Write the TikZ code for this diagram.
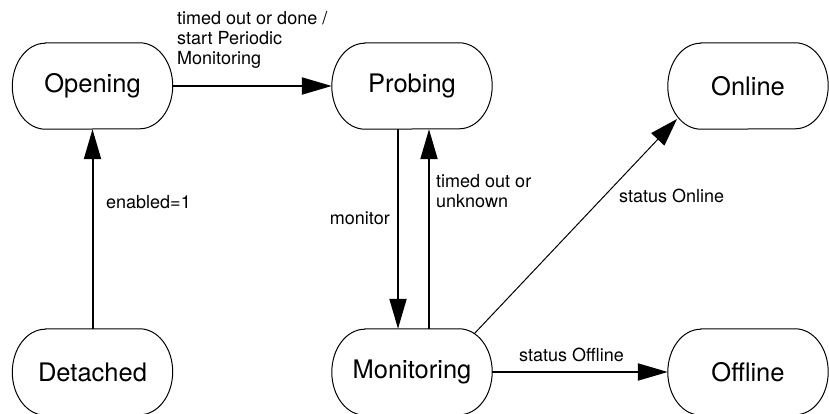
\documentclass[tikz,border=0pt]{standalone}
\usepackage{fontspec}
\setmainfont{TeX Gyre Heros}
\usetikzlibrary{arrows.meta}
\begin{document}
\begin{tikzpicture}[x=1pt,y=-1pt,
  state/.style={minimum width=160pt,minimum height=86pt,inner sep=0pt,font=\fontsize{25.5}{30}\selectfont},
  outline/.style={draw=black,line width=1pt},
  lbl/.style={inner sep=0pt,font=\fontsize{18}{20}\selectfont,align=left},
  thick arrow/.style={line width=2pt,-{Triangle[length=30pt,width=17pt]}},
  thin arrow/.style={line width=1pt,-{Triangle[length=28pt,width=18pt]}}]
\useasboundingbox (0,0) rectangle (829,414);
\node[state] (op) at (92.5,86) {Opening};
\node[state] (pr) at (412,86) {Probing};
\node[state] (on) at (748,86) {Online};
\node[state] (de) at (92.5,372) {Detached};
\node[state] (mo) at (412,372) {Monitoring};
\node[state] (of) at (748,372) {Offline};
\foreach \n in {op,pr,on,de,mo,of}{
  \draw[outline] ([xshift=33pt]\n.north west) -- ([xshift=-33pt]\n.north east)
    arc[start angle=90,end angle=-90,x radius=33pt,y radius=43pt]
    -- ([xshift=33pt]\n.south west)
    arc[start angle=270,end angle=90,x radius=33pt,y radius=43pt] -- cycle;
}
\draw[thick arrow] (op.east) -- (pr.west);
\draw[thick arrow] (de.north) -- (op.south);
\draw[thick arrow] ([xshift=-14pt]pr.south) -- ([xshift=-14pt]mo.north);
\draw[thick arrow] ([xshift=17pt]mo.north) -- ([xshift=17pt]pr.south);
\draw[thin arrow] ([xshift=62pt,yshift=38pt]mo.center) -- ([xshift=-71pt,yshift=-33pt]on.center);
\draw[thick arrow] (mo.east) -- (of.west);
\node[lbl,anchor=base west] (l1) at (177,65) {timed out or done /\\start Periodic\\Monitoring};
\node[lbl,anchor=base west] (l2) at (106,208) {enabled=1};
\node[lbl,anchor=base east] (l3) at (390,224) {monitor};
\node[lbl,anchor=base west] (l4) at (436,207) {timed out or\\unknown};
\node[lbl,anchor=base west] (l5) at (619,202) {status Online};
\node[lbl,anchor=base west] (l6) at (519,361) {status Offline};
\end{tikzpicture}
\end{document}
